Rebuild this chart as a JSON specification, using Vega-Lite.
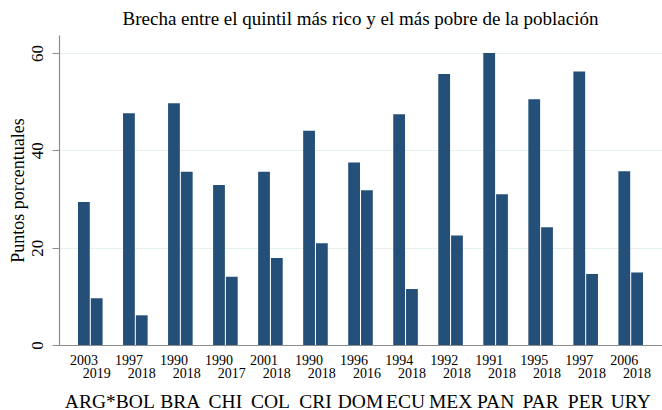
{
  "$schema": "https://vega.github.io/schema/vega-lite/v6.json",
  "width": 603,
  "height": 310,
  "autosize": {"type": "none"},
  "padding": {"left": 59, "top": 35, "right": 0, "bottom": 65},
  "background": "white",
  "config": {
    "view": {"stroke": null},
    "font": "Liberation Serif"
  },
  "title": {
    "text": "Brecha entre el quintil más rico y el más pobre de la población",
    "font": "Liberation Serif",
    "fontSize": 19,
    "fontWeight": "normal",
    "color": "#000000",
    "anchor": "middle",
    "baseline": "alphabetic",
    "offset": -9
  },
  "data": {
    "values": [
      {"country": "ARG*", "period": "1", "year": "2003", "value": 29.4},
      {"country": "ARG*", "period": "2", "year": "2019", "value": 9.6},
      {"country": "BOL", "period": "1", "year": "1997", "value": 47.6},
      {"country": "BOL", "period": "2", "year": "2018", "value": 6.1},
      {"country": "BRA", "period": "1", "year": "1990", "value": 49.7},
      {"country": "BRA", "period": "2", "year": "2018", "value": 35.6},
      {"country": "CHI", "period": "1", "year": "1990", "value": 32.9},
      {"country": "CHI", "period": "2", "year": "2017", "value": 14.0},
      {"country": "COL", "period": "1", "year": "2001", "value": 35.6},
      {"country": "COL", "period": "2", "year": "2018", "value": 17.9},
      {"country": "CRI", "period": "1", "year": "1990", "value": 44.0},
      {"country": "CRI", "period": "2", "year": "2018", "value": 20.9},
      {"country": "DOM", "period": "1", "year": "1996", "value": 37.5},
      {"country": "DOM", "period": "2", "year": "2016", "value": 31.8},
      {"country": "ECU", "period": "1", "year": "1994", "value": 47.4},
      {"country": "ECU", "period": "2", "year": "2018", "value": 11.5},
      {"country": "MEX", "period": "1", "year": "1992", "value": 55.7},
      {"country": "MEX", "period": "2", "year": "2018", "value": 22.5},
      {"country": "PAN", "period": "1", "year": "1991", "value": 60.0},
      {"country": "PAN", "period": "2", "year": "2018", "value": 31.0},
      {"country": "PAR", "period": "1", "year": "1995", "value": 50.5},
      {"country": "PAR", "period": "2", "year": "2018", "value": 24.2},
      {"country": "PER", "period": "1", "year": "1997", "value": 56.2},
      {"country": "PER", "period": "2", "year": "2018", "value": 14.6},
      {"country": "URY", "period": "1", "year": "2006", "value": 35.7},
      {"country": "URY", "period": "2", "year": "2018", "value": 14.9}
    ]
  },
  "encoding": {
    "x": {
      "field": "country",
      "type": "nominal",
      "sort": null,
      "scale": {"paddingInner": 0.454, "paddingOuter": 0.422},
      "axis": {
        "title": null,
        "ticks": false,
        "domainColor": "#8c8c8c",
        "domainWidth": 1.2,
        "labelFont": "Liberation Serif",
        "labelFontSize": 19.5,
        "labelColor": "#000000",
        "labelAngle": 0,
        "labelPadding": 62,
        "labelBaseline": "alphabetic",
        "labelOverlap": false,
        "labelBound": false,
        "grid": false
      }
    },
    "xOffset": {
      "field": "period",
      "type": "nominal",
      "scale": {"paddingInner": 0.08, "paddingOuter": 0}
    }
  },
  "layer": [
    {
      "mark": {"type": "bar", "color": "#244f79"},
      "encoding": {
        "y": {
          "field": "value",
          "type": "quantitative",
          "scale": {"domain": [0, 63.7], "nice": false},
          "axis": {
            "title": "Puntos porcentuales",
            "titleFont": "Liberation Serif",
            "titleFontSize": 18,
            "titleFontWeight": "normal",
            "titleColor": "#000000",
            "titlePadding": 1,
            "values": [0, 20, 40, 60],
            "grid": true,
            "gridColor": "#e6eff1",
            "gridWidth": 1,
            "tickSize": 7,
            "tickColor": "#8c8c8c",
            "domainColor": "#8c8c8c",
            "domainWidth": 1.2,
            "labelFont": "Liberation Serif",
            "labelFontSize": 17,
            "labelColor": "#000000",
            "labelAngle": -90,
            "labelAlign": "center",
            "labelBaseline": "bottom",
            "labelPadding": 6
          }
        }
      }
    },
    {
      "transform": [{"filter": "datum.period == '1'"}],
      "mark": {"type": "text", "font": "Liberation Serif", "fontSize": 14, "color": "#000000", "baseline": "alphabetic", "dy": 19.5},
      "encoding": {
        "y": {"datum": 0, "type": "quantitative"},
        "text": {"field": "year"}
      }
    },
    {
      "transform": [{"filter": "datum.period == '2'"}],
      "mark": {"type": "text", "font": "Liberation Serif", "fontSize": 14, "color": "#000000", "baseline": "alphabetic", "dy": 33},
      "encoding": {
        "y": {"datum": 0, "type": "quantitative"},
        "text": {"field": "year"}
      }
    }
  ]
}
